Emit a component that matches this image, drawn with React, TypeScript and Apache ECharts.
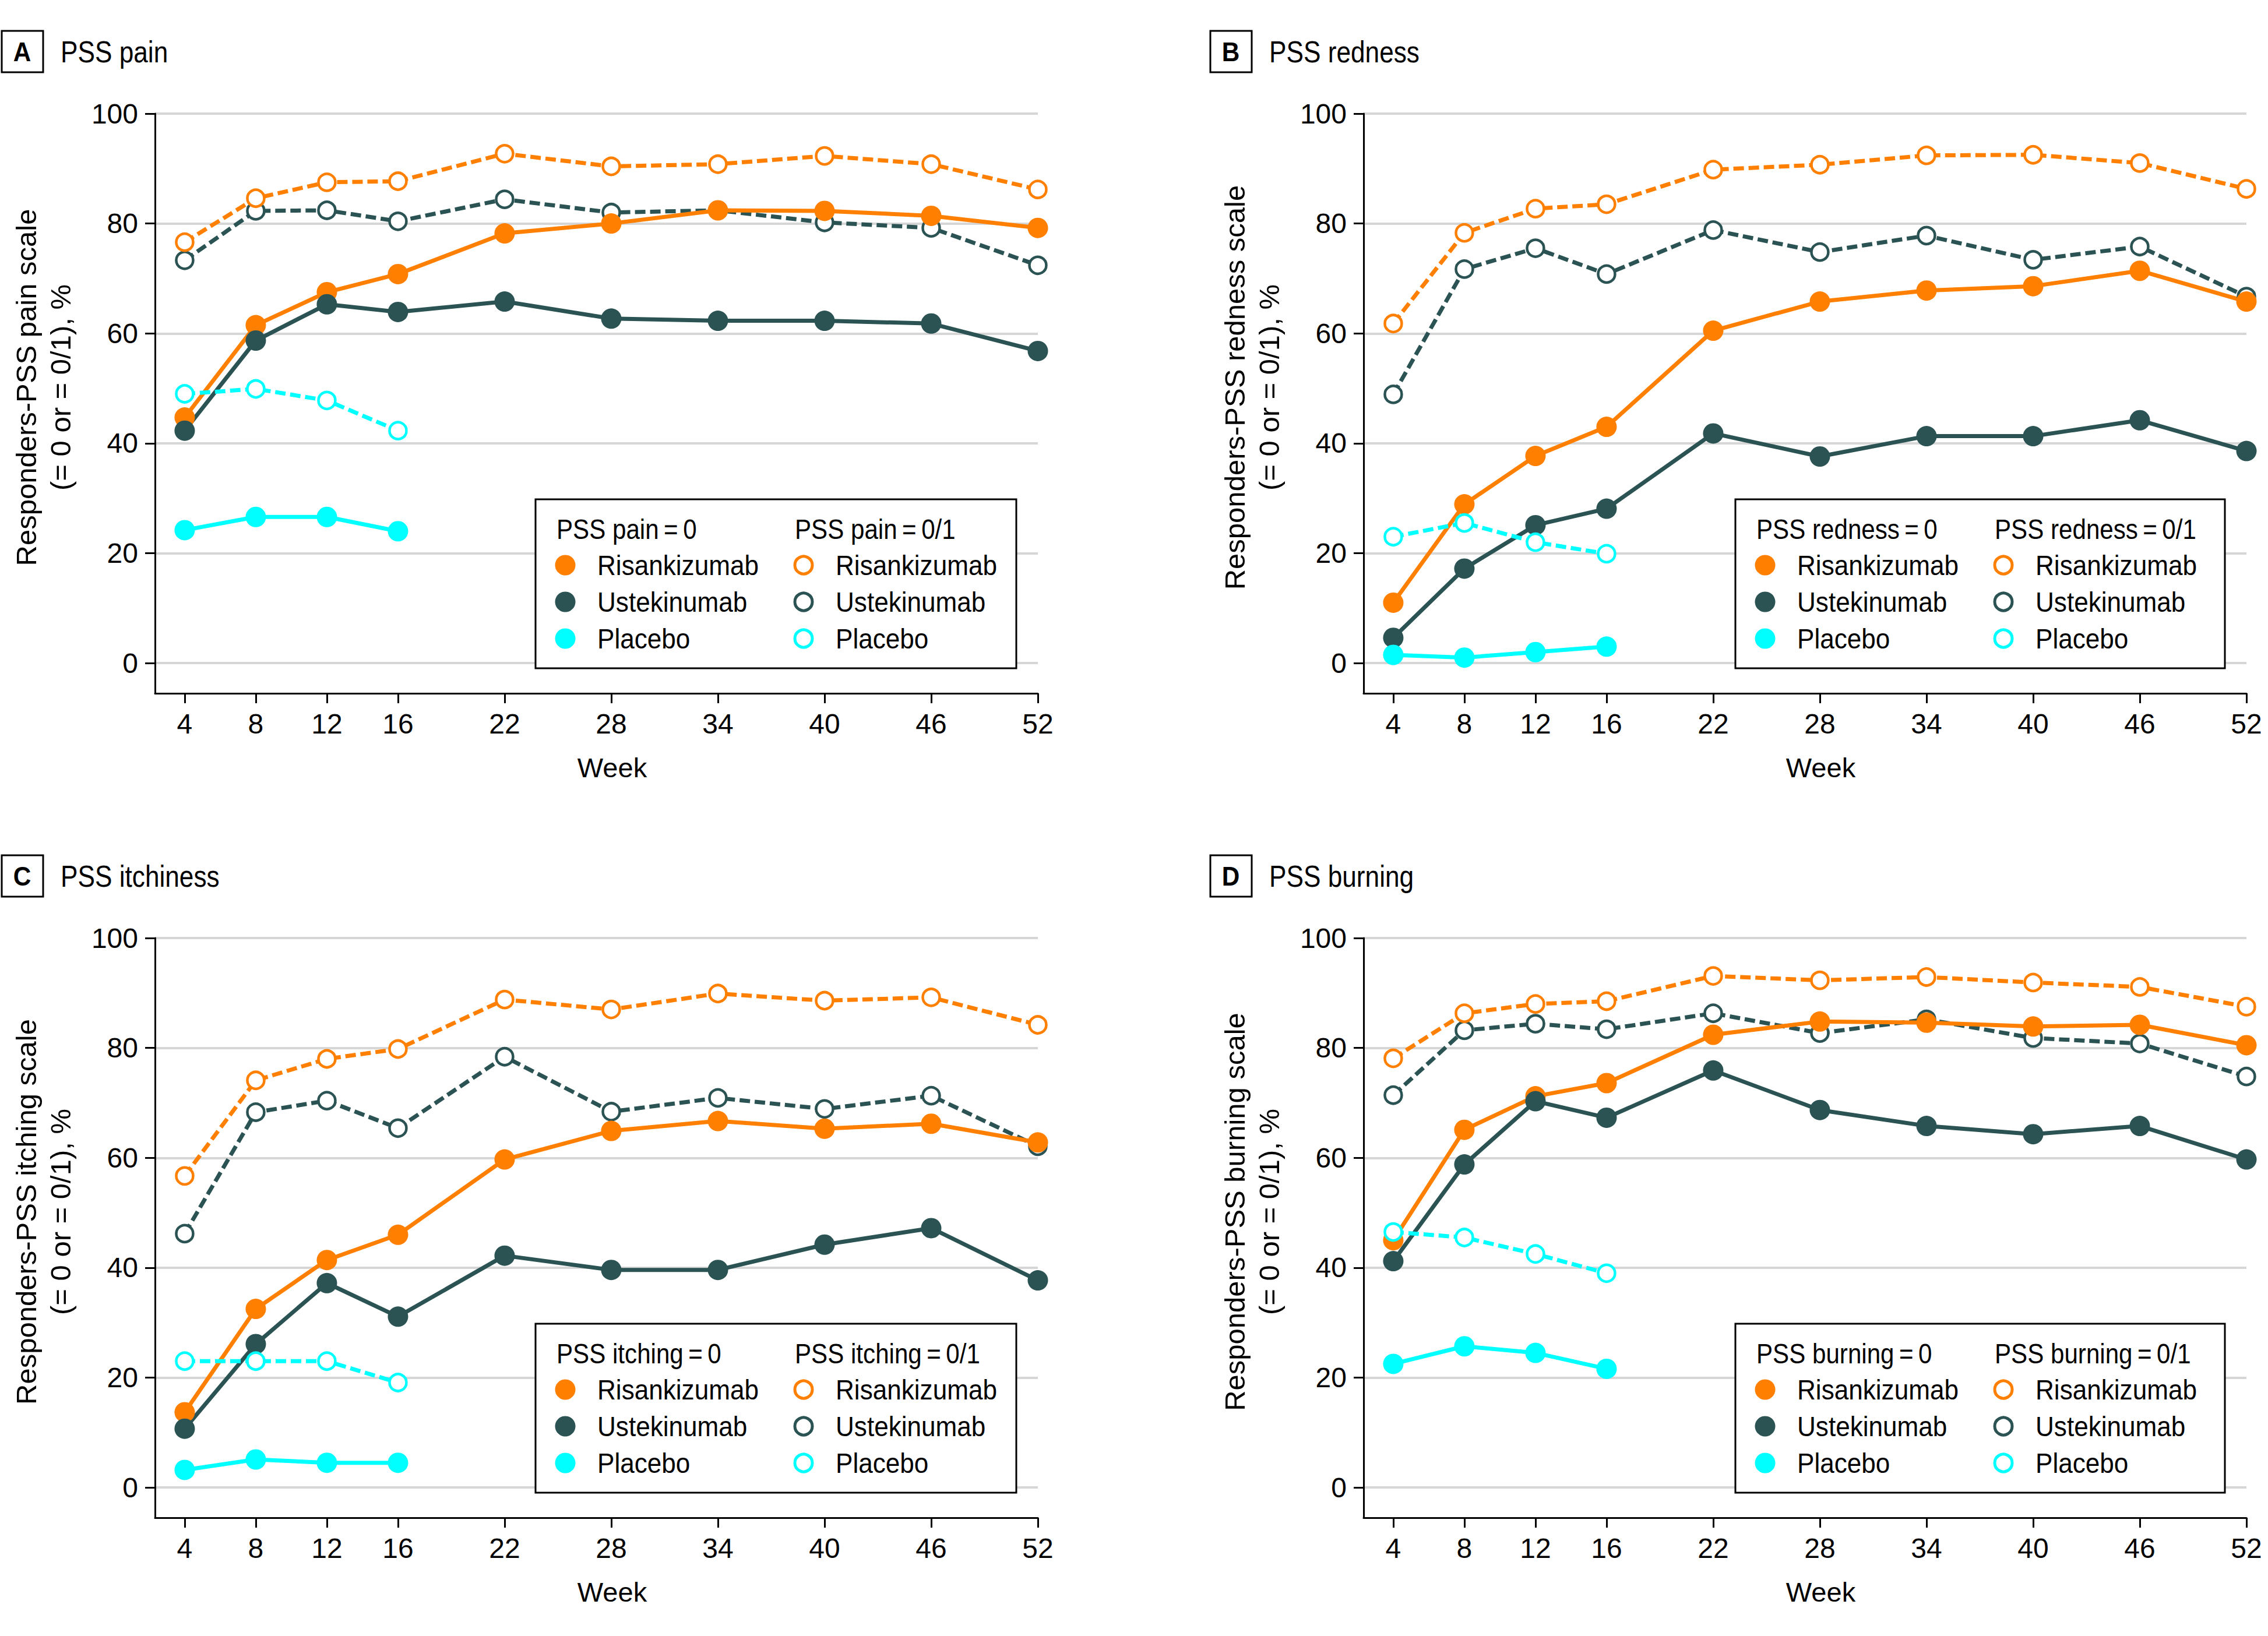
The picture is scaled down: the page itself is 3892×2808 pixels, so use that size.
import React, { useEffect, useRef } from "react";
import * as echarts from "echarts";

// ---------- data ----------
const WEEKS = [4, 8, 12, 16, 22, 28, 34, 40, 46, 52];
const PLACEBO_WEEKS = [4, 8, 12, 16];
const Y_TICKS = [0, 20, 40, 60, 80, 100];

const painRis0 = [44.7, 61.5, 67.5, 70.8, 78.2, 80.0, 82.4, 82.3, 81.4, 79.2];
const painUst0 = [42.3, 58.7, 65.3, 63.9, 65.8, 62.7, 62.3, 62.3, 61.8, 56.8];
const painPla0 = [24.2, 26.6, 26.6, 24.0];
const painRis01 = [76.6, 84.6, 87.5, 87.7, 92.7, 90.4, 90.8, 92.3, 90.8, 86.2];
const painUst01 = [73.3, 82.3, 82.4, 80.4, 84.4, 82.0, 82.4, 80.2, 79.2, 72.4];
const painPla01 = [49.0, 49.9, 47.8, 42.3];

const rednessRis0 = [11.0, 28.9, 37.7, 43.0, 60.5, 65.8, 67.8, 68.6, 71.4, 65.8];
const rednessUst0 = [4.6, 17.2, 25.1, 28.1, 41.8, 37.6, 41.3, 41.3, 44.2, 38.6];
const rednessPla0 = [1.5, 1.0, 2.0, 3.0];
const rednessRis01 = [61.8, 78.3, 82.7, 83.5, 89.8, 90.7, 92.4, 92.5, 91.0, 86.3];
const rednessUst01 = [48.9, 71.7, 75.5, 70.8, 78.8, 74.8, 77.8, 73.4, 75.8, 66.7];
const rednessPla01 = [23.0, 25.5, 22.0, 19.9];

const itchRis0 = [13.7, 32.5, 41.4, 46.0, 59.7, 64.9, 66.7, 65.3, 66.2, 62.8];
const itchUst0 = [10.7, 26.1, 37.2, 31.1, 42.2, 39.6, 39.6, 44.2, 47.2, 37.7];
const itchPla0 = [3.2, 5.1, 4.5, 4.5];
const itchRis01 = [56.7, 74.1, 78.0, 79.8, 88.8, 87.0, 89.9, 88.6, 89.2, 84.2];
const itchUst01 = [46.2, 68.3, 70.4, 65.4, 78.4, 68.4, 70.9, 68.9, 71.3, 62.1];
const itchPla01 = [23.0, 23.0, 23.0, 19.1];

const burnRis0 = [45.0, 65.1, 71.2, 73.6, 82.4, 84.8, 84.6, 83.9, 84.2, 80.5];
const burnUst0 = [41.2, 58.8, 70.3, 67.3, 75.9, 68.7, 65.8, 64.3, 65.8, 59.7];
const burnPla0 = [22.5, 25.7, 24.5, 21.6];
const burnRis01 = [78.1, 86.3, 88.0, 88.5, 93.1, 92.3, 92.9, 91.9, 91.1, 87.5];
const burnUst01 = [71.4, 83.2, 84.4, 83.4, 86.3, 82.7, 85.2, 81.8, 80.8, 74.8];
const burnPla01 = [46.5, 45.5, 42.5, 39.0];

const PANEL_LETTERS = ["A", "B", "C", "D"];
const PANEL_TITLES = ["PSS pain", "PSS redness", "PSS itchiness", "PSS burning"];
const LEGEND_KEYS = ["PSS pain", "PSS redness", "PSS itching", "PSS burning"];
const Y_TITLES = [
  "Responders-PSS pain scale",
  "Responders-PSS redness scale",
  "Responders-PSS itching scale",
  "Responders-PSS burning scale",
];
const Y_TITLE_LINE2 = "(= 0 or = 0/1), %";

const PANEL_DATA = [
  { ris0: painRis0, ust0: painUst0, pla0: painPla0, ris01: painRis01, ust01: painUst01, pla01: painPla01 },
  { ris0: rednessRis0, ust0: rednessUst0, pla0: rednessPla0, ris01: rednessRis01, ust01: rednessUst01, pla01: rednessPla01 },
  { ris0: itchRis0, ust0: itchUst0, pla0: itchPla0, ris01: itchRis01, ust01: itchUst01, pla01: itchPla01 },
  { ris0: burnRis0, ust0: burnUst0, pla0: burnPla0, ris01: burnRis01, ust01: burnUst01, pla01: burnPla01 },
];

// ---------- style ----------
const ORANGE = "#FF7F00";
const DARK = "#2B5353";
const CYAN = "#00FFFF";
const FONT = "'Liberation Sans', Arial, sans-serif";
const FS = 49;
const TS = 0.9; // horizontal text compression to mimic the condensed face

const PANEL_DX = [0, 2074, 0, 2074];
const PANEL_DY = [0, 0, 1415, 1415];
const LEGEND_SHIFT = [0, -15, 0, -15];

const GRID_LEFT = 266;
const GRID_TOP = 195;
const GRID_W = 1515;
const GRID_H = 995;

const zip = (xs: number[], ys: number[]) => ys.map((y, i) => [xs[i], y]);

const SERIES_KEYS = ["ust01", "ris01", "ris0", "ust0", "pla0", "pla01"];
const SERIES_COLOR: Record<string, string> = {
  ris0: ORANGE, ust0: DARK, pla0: CYAN, ris01: ORANGE, ust01: DARK, pla01: CYAN,
};
const SERIES_LABEL: Record<string, string> = {
  ris0: "Risankizumab", ust0: "Ustekinumab", pla0: "Placebo",
  ris01: "Risankizumab", ust01: "Ustekinumab", pla01: "Placebo",
};

function txt(x: number, y: number, text: string, opts: any = {}) {
  const { scaleX = 1, rotation = 0, align = "left", size = FS, weight = "normal" } = opts;
  return {
    type: "text",
    x,
    y,
    scaleX,
    rotation,
    silent: true,
    z: 10,
    style: {
      text,
      fontFamily: FONT,
      fontSize: size,
      fontWeight: weight,
      fill: "#000",
      textAlign: align,
      textVerticalAlign: "middle",
    },
  };
}

function buildOption() {
  const grid: any[] = [];
  const xAxis: any[] = [];
  const yAxis: any[] = [];
  const series: any[] = [];
  const graphic: any[] = [];

  for (let i = 0; i < 4; i++) {
    const dx = PANEL_DX[i];
    const dy = PANEL_DY[i];
    const ls = LEGEND_SHIFT[i];
    grid.push({ left: GRID_LEFT + dx, top: GRID_TOP + dy, width: GRID_W, height: GRID_H, containLabel: false });
    xAxis.push({
      type: "value",
      gridIndex: i,
      min: 2.33,
      max: 52,
      name: "Week",
      nameLocation: "middle",
      nameGap: 104,
      nameTextStyle: { fontFamily: FONT, fontSize: 47, color: "#000", padding: [0, 0, 0, 54] },
      axisLine: { show: true, onZero: false, lineStyle: { color: "#000", width: 3 } },
      axisTick: { show: true, customValues: WEEKS, length: 17, lineStyle: { color: "#000", width: 3 } },
      axisLabel: { show: true, customValues: WEEKS, margin: 28, fontFamily: FONT, fontSize: 48, color: "#000" },
      splitLine: { show: false },
    });
    yAxis.push({
      type: "value",
      gridIndex: i,
      min: -5.5,
      max: 100,
      axisLine: { show: true, onZero: false, lineStyle: { color: "#000", width: 3 } },
      axisTick: { show: true, customValues: Y_TICKS, length: 17, lineStyle: { color: "#000", width: 3 } },
      axisLabel: { show: true, customValues: Y_TICKS, margin: 29, fontFamily: FONT, fontSize: 48, color: "#000" },
      splitLine: { show: true, lineStyle: { color: "#D6D6D6", width: 4 } },
    });

    const d: any = PANEL_DATA[i];
    for (const key of SERIES_KEYS) {
      const hollow = key.endsWith("01");
      const isPla = key.startsWith("pla");
      const color = SERIES_COLOR[key];
      series.push({
        type: "line",
        name: `${PANEL_LETTERS[i]}-${SERIES_LABEL[key]}${hollow ? " (0/1)" : " (0)"}`,
        xAxisIndex: i,
        yAxisIndex: i,
        data: zip(isPla ? PLACEBO_WEEKS : WEEKS, d[key]),
        symbol: "circle",
        symbolSize: hollow ? 29 : 35,
        showSymbol: true,
        itemStyle: hollow
          ? { color: "#FFFFFF", borderColor: color, borderWidth: 4.5 }
          : { color, borderWidth: 0 },
        lineStyle: { color, width: 7, type: hollow ? [18, 8] : "solid" },
        emphasis: { disabled: true },
        silent: true,
      });
    }

    // legend (box, headers, markers, labels)
    const boxLeft = 919 + dx + ls;
    const boxTop = 857 + dy;
    graphic.push({
      type: "rect",
      shape: { x: boxLeft, y: boxTop, width: 825 - ls, height: 290 },
      style: { fill: "#FFFFFF", stroke: "#000", lineWidth: 3 },
      z: 5,
      silent: true,
    });
    graphic.push(txt(boxLeft + 36, 908 + dy, `${LEGEND_KEYS[i]}\u2009=\u20090`, { scaleX: 0.86 }));
    graphic.push(txt(boxLeft + 445, 908 + dy, `${LEGEND_KEYS[i]}\u2009=\u20090/1`, { scaleX: 0.86 }));
    const rowsY = [970, 1033, 1096];
    ["ris", "ust", "pla"].forEach((t, r) => {
      for (const suffix of ["0", "01"]) {
        const key = t + suffix;
        const hollow = suffix === "01";
        const cx = (hollow ? 1379 : 970) + dx + ls;
        const cy = rowsY[r] + dy;
        graphic.push({
          type: "circle",
          shape: { cx, cy, r: hollow ? 15 : 17.5 },
          style: hollow
            ? { fill: "#FFFFFF", stroke: SERIES_COLOR[key], lineWidth: 5 }
            : { fill: SERIES_COLOR[key] },
          z: 10,
          silent: true,
        });
        graphic.push(txt(cx + 55, cy, SERIES_LABEL[key], { scaleX: TS }));
      }
    });

    // panel title box + text
    graphic.push({
      type: "rect",
      shape: { x: 3 + dx, y: 53 + dy, width: 71, height: 71 },
      style: { fill: "none", stroke: "#000", lineWidth: 3 },
      silent: true,
    });
    graphic.push(txt(38 + dx, 89 + dy, PANEL_LETTERS[i], { align: "center", size: 46, weight: "bold", scaleX: 0.92 }));
    graphic.push(txt(104 + dx, 89 + dy, PANEL_TITLES[i], { size: 52, scaleX: 0.85 }));

    // y axis title (two lines)
    graphic.push(txt(45 + dx, 665 + dy, Y_TITLES[i], { align: "center", rotation: Math.PI / 2 }));
    graphic.push(txt(104 + dx, 665 + dy, Y_TITLE_LINE2, { align: "center", rotation: Math.PI / 2 }));
  }

  return {
    animation: false,
    backgroundColor: "#FFFFFF",
    grid,
    xAxis,
    yAxis,
    series,
    graphic,
  };
}

export default function App() {
  const ref = useRef<HTMLDivElement>(null);
  useEffect(() => {
    if (!ref.current) return;
    const chart = echarts.init(ref.current, null, { renderer: "svg" });
    chart.setOption(buildOption() as any);
    return () => chart.dispose();
  }, []);
  return (
    <div
      ref={ref}
      style={{ position: "absolute", left: 0, top: 0, width: 3892, height: 2808, background: "#fff" }}
    />
  );
}
